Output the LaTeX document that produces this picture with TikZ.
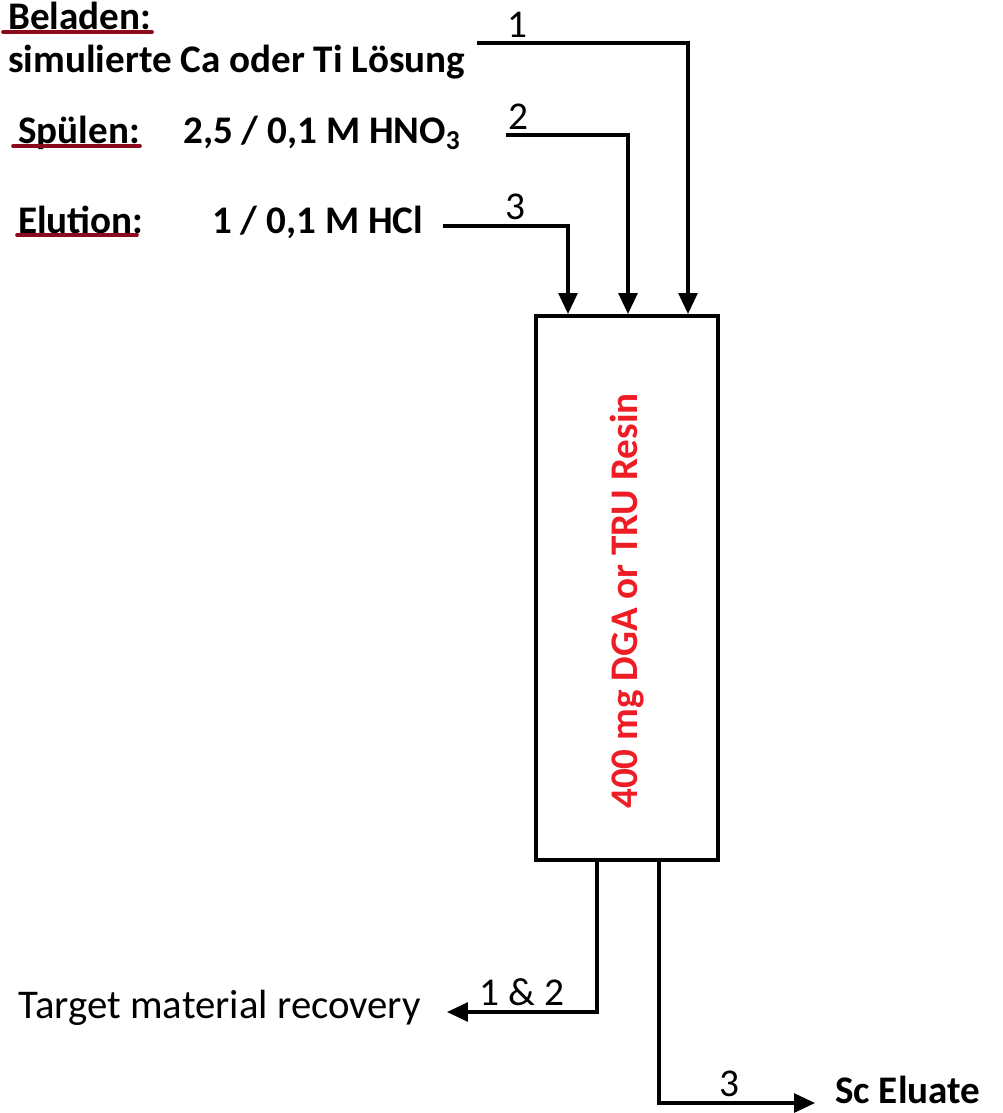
\documentclass[tikz,border=0pt]{standalone}
\usepackage{fontspec}
\setmainfont{Carlito}
\usepackage{tikz}
\usetikzlibrary{arrows.meta,positioning,calc}
\definecolor{squiggle}{HTML}{8B0A1E}
\definecolor{resinred}{HTML}{EE1C25}

\begin{document}
\begin{tikzpicture}[
x=0.025cm, y=-0.025cm,
font=\fontsize{29}{34}\selectfont,
lbl/.style={inner sep=0pt, anchor=west, font=\fontsize{27.8}{33}\selectfont\bfseries},
num/.style={inner sep=0pt, font=\fontsize{28}{33}\selectfont},
column/.style={draw, line width=2.8pt, minimum width=4.55cm, minimum height=13.6cm, inner sep=0pt},
flow/.style={line width=2.2pt},
feed/.style={flow, -{Triangle[length=0.52cm, width=0.47cm]}},
uline/.style={squiggle, line width=2.6pt, line cap=round}
]
\useasboundingbox (0,0) rectangle (1003,1113);

% Column
\node[column] (col) at (627,588) {};
\node[rotate=90, text=resinred, font=\fontsize{27.8}{33}\selectfont\bfseries] (resin) at ($(col.center)+(0,13)$) {400 mg DGA or TRU Resin};

% Solutions
\node[lbl] (belad) at (8,16) {Beladen:};
\node[lbl] (sol) at (8,62) {simulierte Ca oder Ti Lösung};
\node[lbl] (spuel) at (18,133) {Spülen:};
\node[lbl] (hno) at (183,133) {2,5 / 0,1 M HNO\textsubscript{3}};
\node[lbl] (elut) at (18,220) {Elution:};
\node[lbl] (hcl) at (212,222) {1 / 0,1 M HCl};

% Spell-check marks
\draw[uline] (3,32) -- (152,32);
\draw[uline] (13,146) -- (140,146);
\draw[uline] (17,235) -- (137,235);

% Feed lines
\coordinate (f1) at (477,43);
\coordinate (f2) at (506,135);
\coordinate (f3) at (443,226);
\draw[feed] (f1) -- node[num, above=3pt, pos=0.19] {1} (688,43) -- (col.north -| 688,0);
\draw[feed] (f2) -- node[num, above=3pt, pos=0.10] {2} (628,135) -- (col.north -| 628,0);
\draw[feed] (f3) -- node[num, above=3pt, pos=0.58] {3} (568,226) -- (col.north -| 568,0);

% Outlets
\node[inner sep=0pt, anchor=east] (target) at (421,1008) {Target material recovery};
\node[lbl] (eluate) at (835,1090) {Sc Eluate};
\draw[feed] (col.south -| 597,0) -- (597,1012) -- node[num, above=3pt, pos=0.5] {1 \& 2} ($(target.east |- 0,1012)+(26,0)$);
\draw[feed] (col.south -| 659,0) -- (659,1103) -- node[num, above=3pt, pos=0.45] {3} ($(eluate.west |- 0,1103)+(-20,0)$);
\end{tikzpicture}
\end{document}
